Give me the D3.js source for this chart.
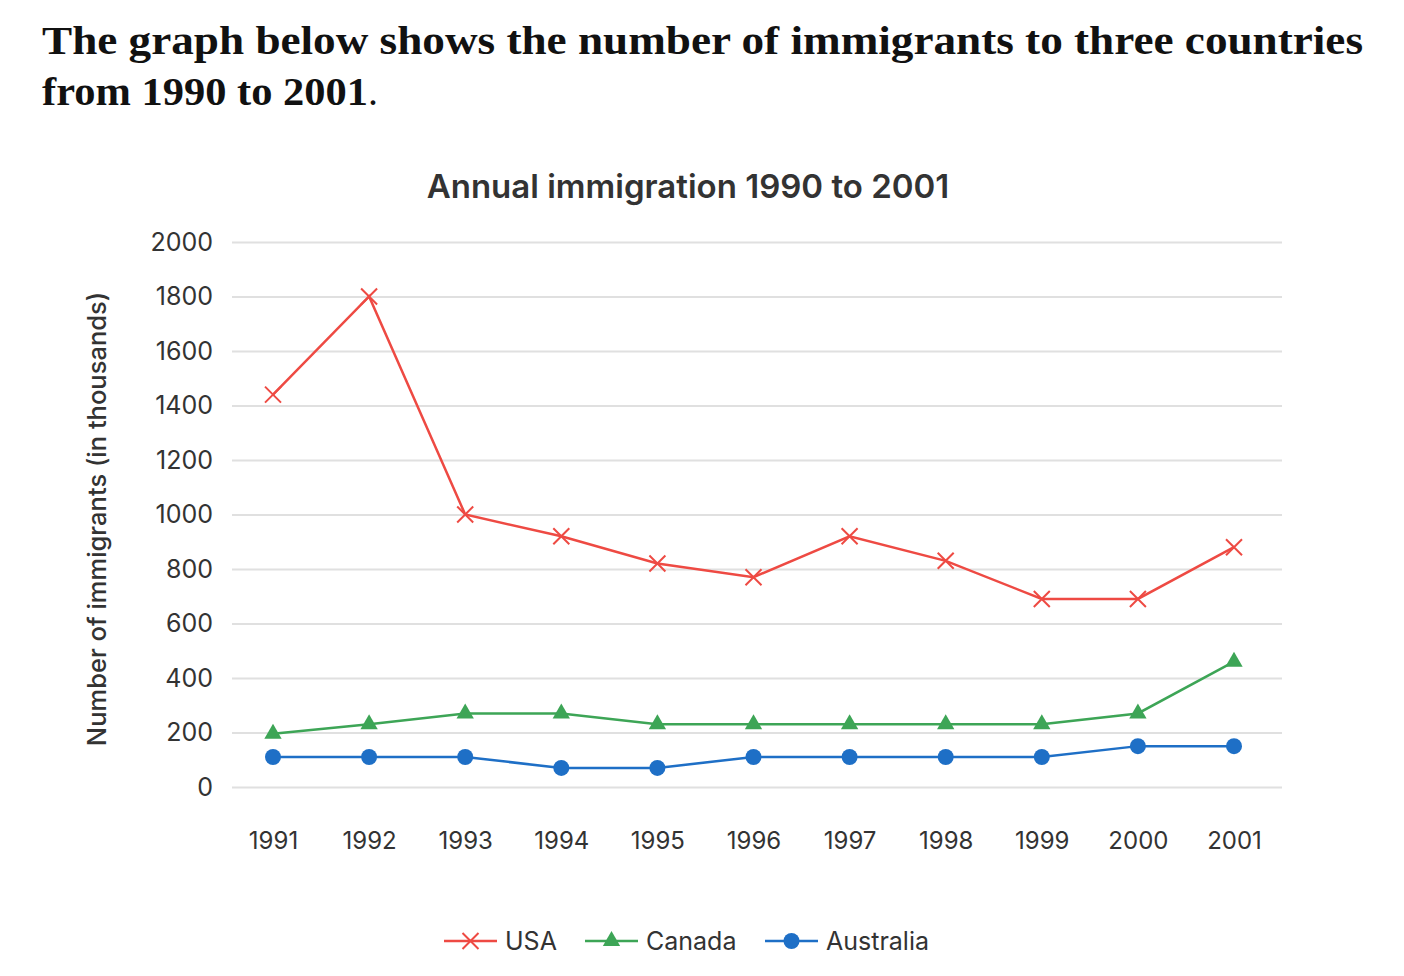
<!DOCTYPE html>
<html>
<head>
<meta charset="utf-8">
<script src="https://cdn.jsdelivr.net/npm/d3@7"></script>
<style>
  body { margin: 0; background: #fff; }
  svg { display: block; }
</style>
</head>
<body>
<svg id="chart" width="1404" height="976"></svg>
<script>
const years = ['1991','1992','1993','1994','1995','1996','1997','1998','1999','2000','2001'];
const usa = [1440, 1800, 1000, 920, 820, 770, 920, 830, 690, 690, 880];
const canada = [195, 230, 270, 270, 230, 230, 230, 230, 230, 270, 460];
const australia = [110, 110, 110, 70, 70, 110, 110, 110, 110, 150, 150];
const yTicks = [0, 200, 400, 600, 800, 1000, 1200, 1400, 1600, 1800, 2000];

const series = [
    { name: 'USA', values: usa, color: '#ee4a43', marker: 'cross' },
    { name: 'Canada', values: canada, color: '#3da556', marker: 'triangle' },
    { name: 'Australia', values: australia, color: '#1e6fc6', marker: 'circle' }
];

const svg = d3.select('#chart');
const font = 'Inter, Roboto, sans-serif';

// heading
const heading = svg.append('g')
    .attr('font-family', '"Liberation Serif", "DejaVu Serif", serif')
    .attr('font-weight', 'bold')
    .attr('font-size', 40)
    .attr('fill', '#111');
heading.append('text').attr('x', 42).attr('y', 54)
    .attr('textLength', 1321).attr('lengthAdjust', 'spacingAndGlyphs')
    .text('The graph below shows the number of immigrants to three countries');
const line2 = heading.append('text').attr('x', 42).attr('y', 105);
line2.append('tspan').attr('textLength', 326).attr('lengthAdjust', 'spacingAndGlyphs').text('from 1990 to 2001');
line2.append('tspan').attr('font-weight', 'normal').text('.');

const x = d3.scalePoint().domain(years).range([273, 1234]);
const y = d3.scaleLinear().domain([0, 2000]).range([787, 242]);

// chart title
svg.append('text')
    .attr('x', 688).attr('y', 198)
    .attr('text-anchor', 'middle')
    .attr('font-family', font).attr('font-size', 33).attr('font-weight', 600)
    .attr('fill', '#333')
    .text('Annual immigration 1990 to 2001');

// grid + y axis
const yAxis = svg.append('g')
    .attr('transform', 'translate(232,0)')
    .call(d3.axisLeft(y).tickValues(yTicks).tickFormat(d3.format('d')).tickSize(-1050).tickPadding(19));
yAxis.select('.domain').remove();
yAxis.selectAll('.tick line').attr('stroke', '#e0e0e0').attr('stroke-width', 2);
yAxis.selectAll('.tick text')
    .attr('font-family', font).attr('font-size', 25).attr('fill', '#333');

// x axis labels
const xAxis = svg.append('g')
    .attr('transform', 'translate(0,832)')
    .call(d3.axisBottom(x).tickSize(0).tickPadding(0));
xAxis.select('.domain').remove();
xAxis.selectAll('.tick text')
    .attr('font-family', font).attr('font-size', 24).attr('fill', '#333');

// y label
svg.append('text')
    .attr('transform', 'translate(106,519) rotate(-90)')
    .attr('text-anchor', 'middle')
    .attr('font-family', font).attr('font-size', 25.5).attr('font-weight', 500)
    .attr('fill', '#333')
    .text('Number of immigrants (in thousands)');

function drawMarker(g, type, color) {
    if (type === 'circle') {
        g.append('circle').attr('r', 8).attr('fill', color);
    } else if (type === 'triangle') {
        g.append('path').attr('d', d3.symbol(d3.symbolTriangle, 130)()).attr('fill', color);
    } else {
        g.append('path').attr('d', 'M-8,-8L8,8M-8,8L8,-8')
            .attr('stroke', color).attr('stroke-width', 2).attr('fill', 'none');
    }
}

const line = d3.line().x((d, i) => x(years[i])).y(d => y(d));

series.forEach(s => {
    svg.append('path')
        .datum(s.values)
        .attr('fill', 'none')
        .attr('stroke', s.color)
        .attr('stroke-width', 2.5)
        .attr('d', line);
    s.values.forEach((v, i) => {
        const g = svg.append('g').attr('transform', `translate(${x(years[i])},${y(v)})`);
        drawMarker(g, s.marker, s.color);
    });
});

// legend
const legendPos = [444, 585, 765];
series.forEach((s, i) => {
    const g = svg.append('g').attr('transform', `translate(${legendPos[i]},941)`);
    g.append('line').attr('x1', 0).attr('x2', 53).attr('stroke', s.color).attr('stroke-width', 2.5);
    const m = g.append('g').attr('transform', 'translate(26.5,0)');
    drawMarker(m, s.marker, s.color);
    g.append('text').attr('x', 61).attr('y', 0).attr('dy', '0.35em')
        .attr('font-family', font).attr('font-size', 25).attr('fill', '#333')
        .text(s.name);
});
</script>
</body>
</html>
